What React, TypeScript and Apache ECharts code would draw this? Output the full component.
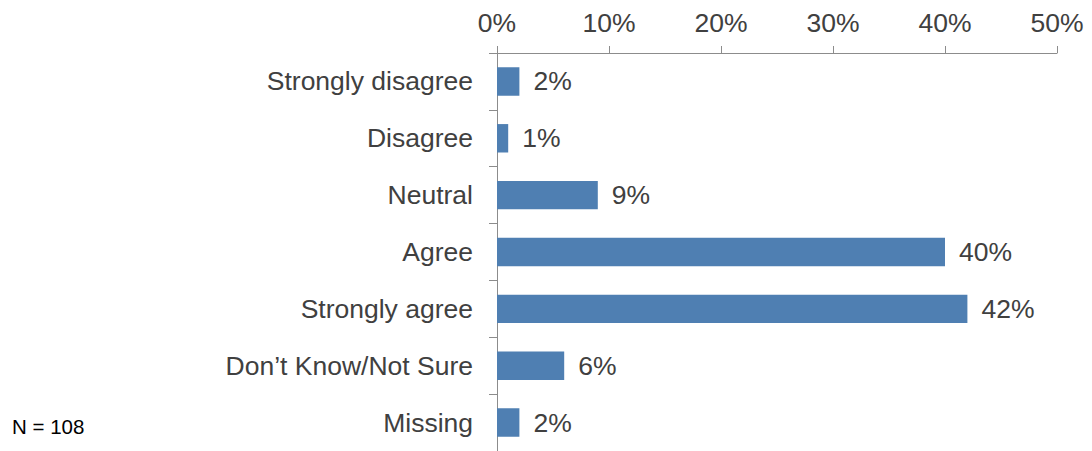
import React, { useEffect, useRef } from "react";
import * as echarts from "echarts";

const categories = [
  "Strongly disagree",
  "Disagree",
  "Neutral",
  "Agree",
  "Strongly agree",
  "Don’t Know/Not Sure",
  "Missing",
];
const values = [2, 1, 9, 40, 42, 6, 2];
const xTicks = [0, 10, 20, 30, 40, 50];
const noteText = "N = 108";

export default function App() {
  const ref = useRef<HTMLDivElement>(null);
  useEffect(() => {
    const chart = echarts.init(ref.current!, null, { renderer: "svg" });
    const font = "'Liberation Sans', Arial, sans-serif";
    chart.setOption({
      animation: false,
      textStyle: { fontFamily: font },
      grid: { left: 497, right: 35, top: 53, height: 403 },
      xAxis: {
        type: "value",
        position: "top",
        min: xTicks[0],
        max: xTicks[xTicks.length - 1],
        interval: 10,
        splitLine: { show: false },
        axisLine: { show: true, lineStyle: { color: "#8c8c8c", width: 1 } },
        axisTick: { show: true, length: 7, lineStyle: { color: "#8c8c8c" } },
        axisLabel: {
          formatter: "{value}%",
          fontSize: 26.5,
          color: "#404040",
          margin: 17,
          fontFamily: font,
        },
      },
      yAxis: {
        type: "category",
        inverse: true,
        data: categories,
        axisLine: { show: true, lineStyle: { color: "#8c8c8c", width: 1 } },
        axisTick: { show: true, length: 8, lineStyle: { color: "#8c8c8c" } },
        axisLabel: {
          fontSize: 26.5,
          color: "#404040",
          margin: 24,
          fontFamily: font,
        },
      },
      series: [
        {
          type: "bar",
          data: values,
          barCategoryGap: "50%",
          itemStyle: { color: "#4f7fb2" },
          label: {
            show: true,
            position: "right",
            distance: 14,
            formatter: "{c}%",
            fontSize: 26.5,
            color: "#404040",
            fontFamily: font,
          },
        },
      ],
      graphic: [
        {
          type: "text",
          left: 12,
          top: 416,
          style: {
            text: noteText,
            fontSize: 20.5,
            fill: "#000",
            fontFamily: font,
          },
        },
      ],
    });
    return () => chart.dispose();
  }, []);
  return <div ref={ref} style={{ width: 1092, height: 451, position: "absolute", left: 0, top: 0 }} />;
}
